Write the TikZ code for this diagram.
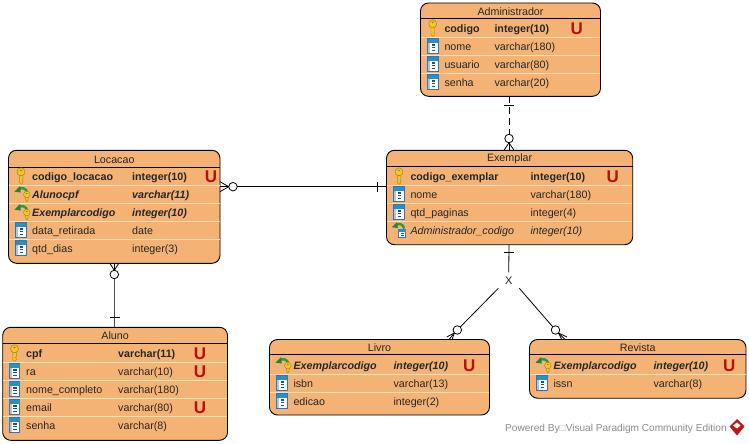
\documentclass[tikz,border=0pt]{standalone}
\usepackage{fontspec}
\setmainfont{Liberation Sans}
\definecolor{erfill}{HTML}{F4B375}
\definecolor{ersep}{HTML}{FCE3B6}
\definecolor{ured}{HTML}{B5120F}
\definecolor{gold}{HTML}{F2C52E}
\definecolor{golddk}{HTML}{A88510}
\definecolor{colblue}{HTML}{2F74BC}
\definecolor{fkgreen}{HTML}{2E9A46}
\definecolor{footgray}{HTML}{8C8C8C}
\tikzset{
  entity/.style={draw=black,fill=erfill,line width=0.9pt,rounded corners=8pt,inner sep=0pt,outer sep=0pt,anchor=north west},
  titletext/.style={font=\fontsize{10.7}{12}\selectfont,text=black!85,inner sep=0pt},
  rowtext/.style={font=\fontsize{10.7}{12}\selectfont,text=black!85,inner sep=0pt,anchor=base west},
  uniq/.style={font=\fontsize{17}{18}\selectfont\bfseries,text=ured,inner sep=0pt,anchor=base},
  headline/.style={draw=black,line width=0.9pt},
  sepline/.style={draw=ersep,line width=0.9pt},
  rel/.style={draw=black,line width=0.8pt},
  relgray/.style={draw=black!70,line width=1pt},
  relmark/.style={draw=black,line width=0.8pt},
  ringmark/.style={circle,draw=black,line width=0.8pt,fill=white,minimum size=8.5pt,inner sep=0pt,outer sep=0pt},
}
\newcommand{\iconkey}{%
  \fill[gold,draw=golddk,line width=0.4pt] (-1.7,-2) -- (-1.7,6.5) -- (0.2,8.4) -- (1.8,6.8) -- (1.8,5.5) -- (0.9,4.8) -- (1.8,3.8) -- (1.8,-2) -- cycle;
  \fill[gold,draw=golddk,line width=0.5pt] (0,-4.2) ellipse (4 and 4);
  \fill[golddk] (0,-5.6) ellipse (1.3 and 0.8);
}
\newcommand{\iconcol}{%
  \fill[white,draw=colblue,line width=0.7pt] (-5.2,-7.3) rectangle (5.2,7.3);
  \fill[colblue!80!cyan] (-5.2,-7.3) rectangle (5.2,-3);
  \fill[colblue!40] (-4.6,-3) rectangle (-2.6,6.7);
  \foreach \d in {-1,1.6,4.2}{\fill[colblue!70!black] (-1.2,\d-0.6) rectangle (2,\d+0.6);}
}
\newcommand{\arcgreen}{%
  \draw[fkgreen,line width=2.4pt] (5.5,-1) .. controls (4.5,-6) and (-1,-7.5) .. (-4,-4);
  \fill[fkgreen!85!black] (-7.5,-2.3) -- (-2,-7.8) -- (-1.2,-1.5) -- cycle;
}
\newcommand{\iconfk}{%
  \begin{scope}[shift={(1,0)}]\arcgreen\end{scope}
  \fill[gold,draw=golddk,line width=0.4pt] (4.6,1) -- (4.6,6) -- (5.8,7.8) -- (7.1,6) -- (7.1,1) -- cycle;
  \fill[gold,draw=golddk,line width=0.4pt] (5.8,0.5) ellipse (3.3 and 3.3);
  \fill[golddk] (5.8,-0.5) ellipse (1 and 0.6);
}
\newcommand{\iconfkcol}{%
  \fill[white,draw=colblue,line width=0.6pt] (-1,-1) rectangle (6.5,7.5);
  \fill[colblue!80!cyan] (-1,-1) rectangle (6.5,1.5);
  \foreach \d in {3.2,5.4}{\fill[colblue!70!black] (1.5,\d-0.5) rectangle (4.5,\d+0.5);}
  \begin{scope}[shift={(0,-0.5)},scale=0.95]\arcgreen\end{scope}
}
% name, x1, y1, x2, y2, header y, title
\newcommand{\entitybox}[7]{%
  \node[entity,minimum width={#4pt-#2pt},minimum height={#5pt-#3pt}] (#1) at (#2,#3) {};
  \draw[headline] (#2,#6) -- (#4,#6);
  \node[titletext] (#1-title) at ({(#2+#4)/2},{(#3+#6)/2+0.8}) {#7};
}
\newcommand{\rsep}[2]{\draw[sepline] ([xshift=0.5pt]#1.west |- 0,#2) -- ([xshift=-0.5pt]#1.east |- 0,#2);}
\newcommand{\setcols}[4]{\def\colI{#1}\def\colN{#2}\def\colT{#3}\def\colU{#4}}
% id, y, icon, font, name, type
\newcommand{\erow}[6]{%
  \begin{scope}[shift={(\colI,#2)}]#3\end{scope}
  \node[rowtext] (#1-n) at (\colN,#2+4.6) {#4#5};
  \node[rowtext] (#1-t) at (\colT,#2+4.6) {#4#6};
}
\newcommand{\uflag}[2]{\node[uniq] (#1-u) at (\colU,#2+6.2) {U};}
\newcommand{\rowB}{\bfseries}
\newcommand{\rowBI}{\bfseries\itshape}
\newcommand{\rowI}{\itshape}
\begin{document}
\begin{tikzpicture}[x=1pt,y=-1pt]
\useasboundingbox (0,0) rectangle (749,444);
\fill[white] (0,0) rectangle (749,444);

% --- entities
\entitybox{admin}{420.5}{3}{600.5}{96.3}{18}{Administrador}
\rsep{admin}{37.7}\rsep{admin}{55.5}\rsep{admin}{73.4}
\setcols{432.7}{444.3}{494.3}{576.7}
\erow{admin-1}{28}{\iconkey}{\rowB}{codigo}{integer(10)}\uflag{admin-1}{28}
\erow{admin-2}{46}{\iconcol}{}{nome}{varchar(180)}
\erow{admin-3}{64}{\iconcol}{}{usuario}{varchar(80)}
\erow{admin-4}{82}{\iconcol}{}{senha}{varchar(20)}

\entitybox{loc}{8.5}{150.3}{220}{263.3}{167}{Locacao}
\rsep{loc}{185.7}\rsep{loc}{203.7}\rsep{loc}{221.6}\rsep{loc}{239.6}
\setcols{21}{32}{132}{211}
\erow{loc-1}{176}{\iconkey}{\rowB}{codigo\_locacao}{integer(10)}\uflag{loc-1}{176}
\erow{loc-2}{194}{\iconfk}{\rowBI}{Alunocpf}{varchar(11)}
\erow{loc-3}{212}{\iconfk}{\rowBI}{Exemplarcodigo}{integer(10)}
\erow{loc-4}{230}{\iconcol}{}{data\_retirada}{date}
\erow{loc-5}{248}{\iconcol}{}{qtd\_dias}{integer(3)}

\entitybox{exem}{386.5}{150.3}{632.7}{244.7}{166}{Exemplar}
\rsep{exem}{185.4}\rsep{exem}{203.4}\rsep{exem}{221.4}
\setcols{399}{410.3}{530.3}{612.7}
\erow{exem-1}{176}{\iconkey}{\rowB}{codigo\_exemplar}{integer(10)}\uflag{exem-1}{176}
\erow{exem-2}{194}{\iconcol}{}{nome}{varchar(180)}
\erow{exem-3}{212}{\iconcol}{}{qtd\_paginas}{integer(4)}
\erow{exem-4}{230}{\iconfkcol}{\rowI}{Administrador\_codigo}{integer(10)}

\entitybox{aluno}{2.7}{327.3}{227.5}{440.3}{343}{Aluno}
\rsep{aluno}{362.3}\rsep{aluno}{380.3}\rsep{aluno}{398.3}\rsep{aluno}{416.3}
\setcols{14.5}{26}{118}{200}
\erow{aluno-1}{353}{\iconkey}{\rowB}{cpf}{varchar(11)}\uflag{aluno-1}{353}
\erow{aluno-2}{371}{\iconcol}{}{ra}{varchar(10)}\uflag{aluno-2}{371}
\erow{aluno-3}{389}{\iconcol}{}{nome\_completo}{varchar(180)}
\erow{aluno-4}{407}{\iconcol}{}{email}{varchar(80)}\uflag{aluno-4}{407}
\erow{aluno-5}{425}{\iconcol}{}{senha}{varchar(8)}

\entitybox{livro}{269.5}{339.5}{489.5}{415}{354.5}{Livro}
\rsep{livro}{374.4}\rsep{livro}{392.4}
\setcols{282}{293.3}{393.3}{469.3}
\erow{livro-1}{365}{\iconfk}{\rowBI}{Exemplarcodigo}{integer(10)}\uflag{livro-1}{365}
\erow{livro-2}{383}{\iconcol}{}{isbn}{varchar(13)}
\erow{livro-3}{401}{\iconcol}{}{edicao}{integer(2)}

\entitybox{rev}{529.5}{339.5}{746}{398.2}{354.5}{Revista}
\rsep{rev}{374.4}
\setcols{542}{553.3}{653.3}{729.3}
\erow{rev-1}{365}{\iconfk}{\rowBI}{Exemplarcodigo}{integer(10)}\uflag{rev-1}{365}
\erow{rev-2}{383}{\iconcol}{}{issn}{varchar(8)}

% --- Administrador to Exemplar
\node[ringmark] (r1) at (509,138.5) {};
\coordinate (b1) at (509,105.5);
\draw[rel,dash pattern=on 7pt off 4pt] (admin.south -| b1) -- (r1.north);
\draw[relmark] ([xshift=-5pt]b1) -- ([xshift=5pt]b1);
\draw[relmark] (r1.south) -- (r1.south |- exem.north);
\draw[relmark] (r1.south) -- ([xshift=-5pt]r1.south |- exem.north);
\draw[relmark] (r1.south) -- ([xshift=5pt]r1.south |- exem.north);

% --- Locacao to Exemplar
\node[ringmark] (r2) at (233,186.7) {};
\coordinate (b2) at (377,186.7);
\draw[rel] (r2.east) -- (exem.west |- r2);
\draw[relmark] ([yshift=-5pt]b2) -- ([yshift=5pt]b2);
\draw[relmark] (r2.west) -- (loc.east |- r2);
\draw[relmark] (r2.west) -- ([yshift=-5pt]loc.east |- r2);
\draw[relmark] (r2.west) -- ([yshift=5pt]loc.east |- r2);

% --- Locacao to Aluno
\node[ringmark] (r3) at (114.3,274.5) {};
\coordinate (b3) at (114.8,317);
\draw[relgray] (r3.south) -- (r3.south |- aluno.north);
\draw[relmark] ([xshift=-4.7pt]b3) -- ([xshift=4.7pt]b3);
\draw[relmark] (r3.north) -- (r3.north |- loc.south);
\draw[relmark] (r3.north) -- ([xshift=-4.5pt]r3.north |- loc.south);
\draw[relmark] (r3.north) -- ([xshift=4.5pt]r3.north |- loc.south);

% --- Exemplar to the X
\node[font=\fontsize{11}{12}\selectfont,text=black!85,inner sep=0pt] (xnode) at (508.7,280.4) {X};
\coordinate (b4) at (509,252.5);
\draw[rel,shorten >=4pt] (exem.south -| b4) -- (xnode.north);
\draw[relmark] ([xshift=-5pt]b4) -- ([xshift=5pt]b4);

% --- X to Livro
\node[ringmark] (r4) at (457.3,330) {};
\coordinate (x4) at (498.3,288.3);
\draw[rel] (x4) -- (r4);
\draw[relmark] (r4.south west) -- (446.7,337);
\draw[relmark] (r4.south west) -- (452,340);
\draw[relmark] (r4.south west) -- (449.5,339);

% --- X to Revista
\node[ringmark] (r5) at (555.5,330) {};
\coordinate (x5) at (519.3,288.3);
\draw[rel] (x5) -- (r5);
\draw[relmark] (r5.south east) -- (567,337);
\draw[relmark] (r5.south east) -- (562,340);
\draw[relmark] (r5.south east) -- (564.5,339);

% --- footer
\node[font=\fontsize{10.1}{12}\selectfont,text=footgray,inner sep=0pt,anchor=base west] (foot) at (505,431.5) {Powered By{\color{black!25}□}Visual Paradigm Community Edition};
\fill[red!70!black!90] (737,419) -- (744.5,426.5) -- (737,435.5) -- (729.5,426.5) -- cycle;
\fill[white] (733,425.5) -- (737,422.5) -- (740.5,425.5) -- (737,428.5) -- cycle;
\end{tikzpicture}
\end{document}
